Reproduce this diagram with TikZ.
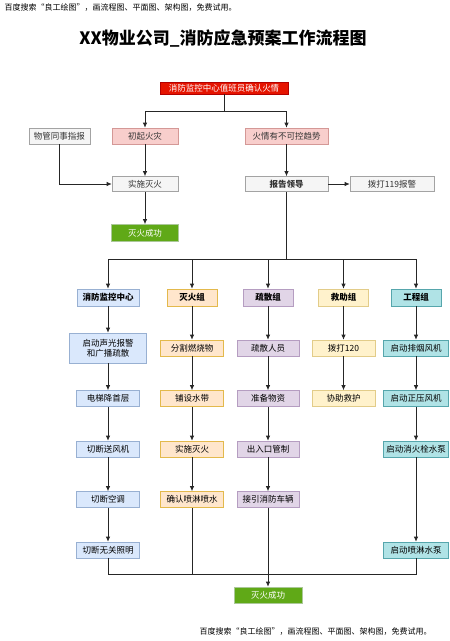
\documentclass[tikz,border=0pt]{standalone}
\usepackage{fontspec}
\setmainfont{Noto Sans CJK SC}
\usetikzlibrary{arrows.meta,positioning}

\definecolor{fred}{HTML}{E51400}
\definecolor{fredb}{HTML}{B20000}
\definecolor{fpink}{HTML}{F8CECC}
\definecolor{fpinkb}{HTML}{B85450}
\definecolor{fgray}{HTML}{F5F5F5}
\definecolor{fgrayb}{HTML}{666666}
\definecolor{fgreen}{HTML}{60A917}
\definecolor{fgreenb}{HTML}{2D7600}
\definecolor{fblue}{HTML}{DAE8FC}
\definecolor{fblueb}{HTML}{6C8EBF}
\definecolor{forange}{HTML}{FFE6CC}
\definecolor{forangeb}{HTML}{D79B00}
\definecolor{fpurple}{HTML}{E1D5E7}
\definecolor{fpurpleb}{HTML}{9673A6}
\definecolor{fyellow}{HTML}{FFF2CC}
\definecolor{fyellowb}{HTML}{D6B656}
\definecolor{fteal}{HTML}{B0E3E6}
\definecolor{ftealb}{HTML}{0E8088}

\tikzset{
  box/.style={draw, line width=0.6pt, inner sep=0pt, minimum height=16pt,
              font=\fontsize{8.5}{10}\selectfont, align=center},
  redbox/.style={box, fill=fred, draw=fredb, text=white, minimum width=128pt, minimum height=12pt},
  pinkbox/.style={box, fill=fpink, draw=fpinkb!60, text=black!80},
  graybox/.style={box, fill=fgray, draw=fgrayb!60, text=black!80, minimum height=15pt},
  okbox/.style={box, fill=fgreen, draw=fgreenb!40, text=white, minimum width=67pt, minimum height=17pt},
  bluebox/.style={box, fill=fblue, draw=fblueb!70, minimum width=63pt},
  orgbox/.style={box, fill=forange, draw=forangeb!70, minimum width=63pt},
  purbox/.style={box, fill=fpurple, draw=fpurpleb!70, minimum width=62pt},
  yelbox/.style={box, fill=fyellow, draw=fyellowb!70, minimum width=63pt},
  tealbox/.style={box, fill=fteal, draw=ftealb!70, minimum width=65pt},
  head/.style={minimum width=50pt, minimum height=17pt, font=\fontsize{8.5}{10}\selectfont\bfseries},
  arr/.style={draw=black!85, line width=0.8pt, -{Latex[length=5pt,width=4.5pt]}},
  ln/.style={draw=black!85, line width=0.8pt}
}

\begin{document}
\begin{tikzpicture}[x=1pt, y=-1pt, node distance=50.5pt]
 \useasboundingbox[fill=white] (0,0) rectangle (450,641);

 \node (tip1) [anchor=west, font=\fontsize{8}{9}\selectfont] at (1,8) {百度搜索“良工绘图”，画流程图、平面图、架构图，免费试用。};
 \node (title) [font=\fontsize{17}{20}\selectfont\bfseries] at (223,38) {XX物业公司\_消防应急预案工作流程图};

 % upper part
 \node (qr)   [redbox]  at (224,88)    {消防监控中心值班员确认火情};
 \node (cq)   [pinkbox, minimum width=66pt] at (145,136)   {初起火灾};
 \node (bk)   [pinkbox, minimum width=83pt] at (286.5,136) {火情有不可控趋势};
 \node (wg)   [graybox, minimum width=61pt, minimum height=16pt] at (59.5,136) {物管同事指报};
 \node (ss)   [graybox, minimum width=66pt] at (145,184)   {实施灭火};
 \node (bg)   [graybox, minimum width=83pt, font=\fontsize{8.5}{10}\selectfont\bfseries] at (286.5,184) {报告领导};
 \node (bj)   [graybox, minimum width=84pt] at (392,184)   {拨打119报警};
 \node (cg1)  [okbox]   at (145,233)   {灭火成功};

 \coordinate (s1) at (224,111);
 \coordinate (s2) at (286.5,259);
 \coordinate (j1) at (268,574);

 % groups
 \node (jk)  [bluebox, head, minimum width=62pt] at (108,297.5) {消防监控中心};
 \node (jk1) [bluebox, below of=jk, minimum width=77pt, minimum height=30pt] {启动声光报警\\和广播疏散};
 \node (jk2) [bluebox, below of=jk1] {电梯降首层};
 \node (jk3) [bluebox, below of=jk2] {切断送风机};
 \node (jk4) [bluebox, below of=jk3] {切断空调};
 \node (jk5) [bluebox, below of=jk4] {切断无关照明};

 \node (mh)  [orgbox, head] at (192,297.5) {灭火组};
 \node (mh1) [orgbox, below of=mh] {分割燃烧物};
 \node (mh2) [orgbox, below of=mh1] {铺设水带};
 \node (mh3) [orgbox, below of=mh2] {实施灭火};
 \node (mh4) [orgbox, below of=mh3] {确认喷淋喷水};

 \node (sa)  [purbox, head] at (268,297.5) {疏散组};
 \node (sa1) [purbox, below of=sa] {疏散人员};
 \node (sa2) [purbox, below of=sa1] {准备物资};
 \node (sa3) [purbox, below of=sa2] {出入口管制};
 \node (sa4) [purbox, below of=sa3] {接引消防车辆};

 \node (jz)  [yelbox, head] at (343.5,297.5) {救助组};
 \node (jz1) [yelbox, below of=jz] {拨打120};
 \node (jz2) [yelbox, below of=jz1] {协助救护};

 \node (gc)  [tealbox, head] at (416,297.5) {工程组};
 \node (gc1) [tealbox, below of=gc] {启动排烟风机};
 \node (gc2) [tealbox, below of=gc1] {启动正压风机};
 \node (gc3) [tealbox, below of=gc2] {启动消火栓水泵};
 \node (gc5) [tealbox, below of=gc3, yshift=-50.5pt] {启动喷淋水泵};

 \node (cg2) [okbox, minimum width=68pt, minimum height=16pt] at (268,595) {灭火成功};

 \node (tip2) [anchor=west, font=\fontsize{8}{9}\selectfont] at (196,632) {百度搜索“良工绘图”，画流程图、平面图、架构图，免费试用。};

 % connectors
 \draw[ln]  (qr) -- (s1);
 \draw[arr] (s1) -| (cq);
 \draw[arr] (s1) -| (bk);
 \draw[arr] (cq) -- (ss);
 \draw[arr] (wg) |- (ss);
 \draw[arr] (bk) -- (bg);
 \draw[arr] (bg) -- (bj);
 \draw[arr] (ss) -- (cg1);
 \draw[ln]  (bg) -- (s2);
 \draw[arr] (s2) -| (jk);
 \draw[arr] (s2) -| (mh);
 \draw[arr] (s2) -| (sa);
 \draw[arr] (s2) -| (jz);
 \draw[arr] (s2) -| (gc);

 \draw[arr] (jk) -- (jk1);
 \draw[arr] (jk1) -- (jk2);
 \draw[arr] (jk2) -- (jk3);
 \draw[arr] (jk3) -- (jk4);
 \draw[arr] (jk4) -- (jk5);
 \draw[arr] (mh) -- (mh1);
 \draw[arr] (mh1) -- (mh2);
 \draw[arr] (mh2) -- (mh3);
 \draw[arr] (mh3) -- (mh4);
 \draw[arr] (sa) -- (sa1);
 \draw[arr] (sa1) -- (sa2);
 \draw[arr] (sa2) -- (sa3);
 \draw[arr] (sa3) -- (sa4);
 \draw[arr] (jz) -- (jz1);
 \draw[arr] (jz1) -- (jz2);
 \draw[arr] (gc) -- (gc1);
 \draw[arr] (gc1) -- (gc2);
 \draw[arr] (gc2) -- (gc3);
 \draw[arr] (gc3) -- (gc5);

 \draw[ln]  (jk5) |- (j1);
 \draw[ln]  (gc5) |- (j1);
 \draw[ln]  (mh4) |- (j1);
 \draw[arr] (sa4) -- (cg2);
\end{tikzpicture}
\end{document}
